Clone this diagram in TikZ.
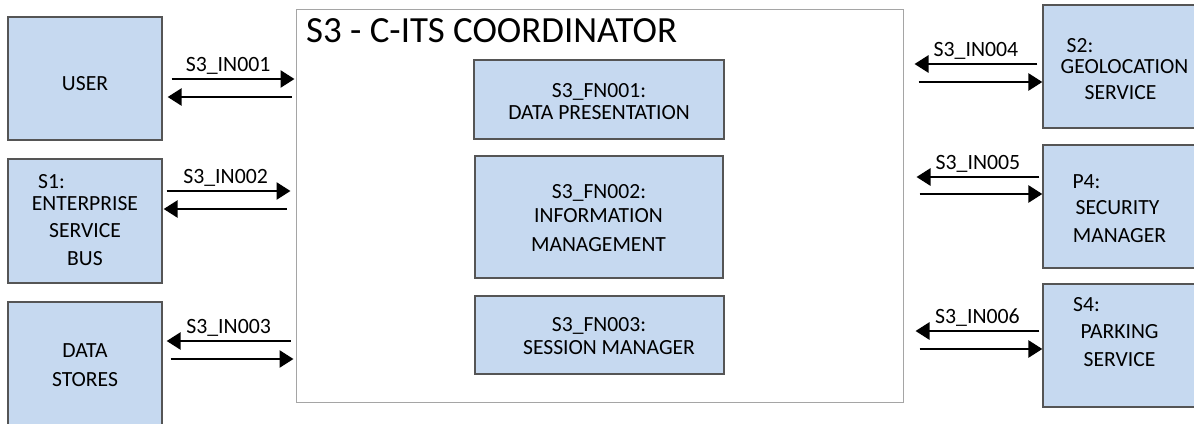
\documentclass[tikz,border=0pt]{standalone}
\usepackage{fontspec}
\setmainfont{Carlito}
\usetikzlibrary{arrows.meta,calc}
\definecolor{boxfill}{RGB}{198,217,240}
\definecolor{boxline}{RGB}{85,85,85}
\definecolor{mainline}{RGB}{165,165,165}
\begin{document}
\begin{tikzpicture}[x=1pt,y=-1pt,
  blk/.style={draw=boxline,fill=boxfill,line width=1.3pt,inner sep=0pt,rectangle},
  txt/.style={inner sep=0pt,anchor=base,font=\fontsize{21.6}{25}\selectfont},
  lbl/.style={inner sep=0pt,anchor=base,font=\fontsize{21.8}{25}\selectfont},
  arr/.style={line width=2.7pt,-{Triangle[length=14pt,width=17pt]}}]
\useasboundingbox (0,0) rectangle (1194,423);
% main container
\node[draw=mainline,line width=1pt,inner sep=0pt,minimum width=607pt,minimum height=393pt] (main) at (599.5,205.5) {};
\node[inner sep=0pt,anchor=base west,font=\fontsize{36.9}{42}\selectfont] (title) at (306,42) {S3 - C-ITS COORDINATOR};
% inner function boxes
\node[blk,minimum width=250pt,minimum height=79pt] (fn1) at (599,99.5) {};
\node[blk,minimum width=248pt,minimum height=122pt] (fn2) at (599,217) {};
\node[blk,minimum width=249pt,minimum height=78pt] (fn3) at (599.5,335) {};
\node[txt] (fn1a) at (599,97) {S3\_FN001:};
\node[txt] (fn1b) at (599,119.5) {DATA PRESENTATION};
\node[txt] (fn2a) at (599,198) {S3\_FN002:};
\node[txt] (fn2b) at (598.5,222.5) {INFORMATION};
\node[txt] (fn2c) at (598.5,251) {MANAGEMENT};
\node[txt] (fn3a) at (599,331) {S3\_FN003:};
\node[txt] (fn3b) at (609,354) {SESSION MANAGER};
% left boxes
\node[blk,minimum width=154pt,minimum height=123pt] (user) at (85,78.5) {};
\node[blk,minimum width=154pt,minimum height=124pt] (esb) at (85,221) {};
\node[blk,minimum width=154pt,minimum height=128pt] (ds) at (85,366) {};
\node[txt] (userT) at (85,90) {USER};
\node[txt] (esbA) at (51.5,188.5) {S1:};
\node[txt] (esbB) at (85,210.5) {ENTERPRISE};
\node[txt] (esbC) at (85,237) {SERVICE};
\node[txt] (esbD) at (85,265.5) {BUS};
\node[txt] (dsA) at (85,357) {DATA};
\node[txt] (dsB) at (85,386) {STORES};
% right boxes
\node[blk,minimum width=161pt,minimum height=123pt] (geo) at (1123.5,66.5) {};
\node[blk,minimum width=161pt,minimum height=123pt] (sec) at (1123.5,206.5) {};
\node[blk,minimum width=161pt,minimum height=123pt] (park) at (1123.5,345.5) {};
\node[txt] (geoA) at (1080,52) {S2:};
\node[txt] (geoB) at (1124.5,73) {GEOLOCATION};
\node[txt] (geoC) at (1120.5,99) {SERVICE};
\node[txt] (secA) at (1086.5,188.5) {P4:};
\node[txt] (secB) at (1117.5,214.5) {SECURITY};
\node[txt] (secC) at (1119.5,242) {MANAGER};
\node[txt] (parkA) at (1086.5,311.5) {S4:};
\node[txt] (parkB) at (1119.5,338) {PARKING};
\node[txt] (parkC) at (1119.5,366) {SERVICE};
% left connectors
\draw[arr] ($(user.east)+(9,0.5)$) -- node[lbl,pos=0.5,yshift=8pt,xshift=-5pt]{S3\_IN001} ($(user.east -| main.west)+(-1,0.5)$);
\draw[arr] ($(user.east -| main.west)+(-4,18.5)$) -- ($(user.east)+(5,18.5)$);
\draw[arr] ($(esb.east)+(4,-30)$) -- node[lbl,pos=0.5,yshift=8pt,xshift=-3pt]{S3\_IN002} ($(esb.east -| main.west)+(-5,-30)$);
\draw[arr] ($(esb.east -| main.west)+(-9,-12)$) -- ($(esb.east)+(1,-12)$);
\draw[arr] ($(ds.east -| main.west)+(-5,-25)$) -- node[lbl,pos=0.5,yshift=8pt]{S3\_IN003} ($(ds.east)+(4,-25)$);
\draw[arr] ($(ds.east)+(8,-7)$) -- ($(ds.east -| main.west)+(-2,-7)$);
% right connectors
\draw[arr] ($(geo.west)+(-5,-2.5)$) -- node[lbl,pos=0.5,yshift=8pt]{S3\_IN004} ($(geo.west -| main.east)+(11,-2.5)$);
\draw[arr] ($(geo.west -| main.east)+(15,15.5)$) -- ($(geo.west)+(0,15.5)$);
\draw[arr] ($(sec.west)+(-3,-29.5)$) -- node[lbl,pos=0.5,yshift=8pt]{S3\_IN005} ($(sec.west -| main.east)+(13,-29.5)$);
\draw[arr] ($(sec.west -| main.east)+(16,-12.5)$) -- ($(sec.west)+(0,-12.5)$);
\draw[arr] ($(park.west)+(-3,-14.5)$) -- node[lbl,pos=0.5,yshift=8pt]{S3\_IN006} ($(park.west -| main.east)+(12,-14.5)$);
\draw[arr] ($(park.west -| main.east)+(16,3.5)$) -- ($(park.west)+(0,3.5)$);
\end{tikzpicture}
\end{document}
